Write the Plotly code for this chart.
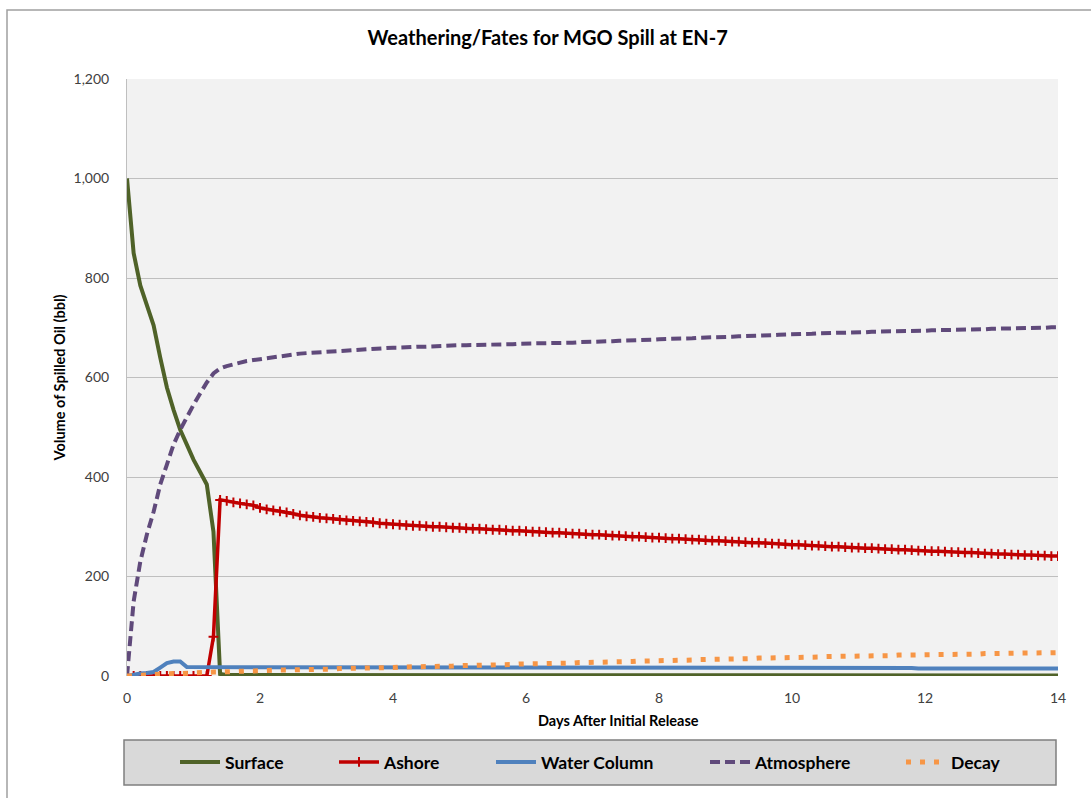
import plotly.graph_objects as go

# Model output time grid (days after release, 0.1-day step)
DAYS = [i / 10 for i in range(141)]

# Volumes (bbl), one row per day
SURFACE = [
    1000, 850, 785, 745, 705, 640, 580, 535, 495, 465,
    435, 410, 385, 290, 4, 2, 2, 2, 2, 2,
    2, 2, 2, 2, 2, 2, 2, 2, 2, 2,
    2, 2, 2, 2, 2, 2, 2, 2, 2, 2,
    1, 1, 1, 1, 1, 1, 1, 1, 1, 1,
    1, 1, 1, 1, 1, 1, 1, 1, 1, 1,
    1, 1, 1, 1, 1, 1, 1, 1, 1, 1,
    1, 1, 1, 1, 1, 1, 1, 1, 1, 1,
    1, 1, 1, 1, 1, 1, 1, 1, 1, 1,
    1, 1, 1, 1, 1, 1, 1, 1, 1, 1,
    1, 1, 1, 1, 1, 1, 1, 1, 1, 1,
    1, 1, 1, 1, 1, 1, 1, 1, 1, 1,
    1, 1, 1, 1, 1, 1, 1, 1, 1, 1,
    1, 1, 1, 1, 1, 1, 1, 1, 1, 1,
    1,
]

ASHORE = [
    0, 0, 0, 0, 0, 0, 0, 0, 0, 0,
    0, 0, 0, 79, 354, 352, 349, 347, 345, 343,
    338, 335, 333, 331, 329, 326, 323, 321, 320, 318,
    317, 316, 314, 313, 312, 311, 310, 309, 307, 306,
    305, 304, 303, 302, 302, 301, 300, 300, 299, 298,
    298, 297, 296, 296, 295, 294, 294, 293, 292, 292,
    291, 290, 290, 289, 288, 288, 287, 286, 286, 285,
    284, 284, 283, 282, 282, 281, 280, 280, 279, 278,
    278, 277, 276, 276, 275, 274, 274, 273, 272, 272,
    271, 270, 270, 269, 268, 268, 267, 266, 266, 265,
    264, 264, 263, 262, 262, 261, 260, 260, 259, 258,
    258, 257, 257, 256, 255, 255, 254, 254, 253, 252,
    252, 251, 251, 250, 249, 249, 248, 248, 247, 246,
    246, 245, 245, 244, 244, 243, 243, 242, 242, 241,
    241,
]

WATER_COLUMN = [
    0, 3, 5, 6, 8, 17, 26, 29, 29, 18,
    18, 18, 18, 18, 18, 18, 18, 18, 18, 18,
    17, 17, 17, 17, 17, 17, 17, 17, 17, 17,
    17, 17, 17, 17, 17, 17, 17, 17, 17, 17,
    16, 16, 16, 16, 16, 16, 16, 16, 16, 16,
    16, 16, 16, 16, 16, 16, 16, 16, 16, 16,
    16, 16, 16, 16, 16, 16, 16, 16, 16, 16,
    16, 16, 16, 16, 16, 16, 16, 16, 16, 16,
    16, 16, 16, 16, 16, 16, 16, 16, 16, 16,
    16, 16, 16, 16, 16, 16, 16, 16, 16, 16,
    16, 16, 16, 16, 16, 16, 16, 16, 16, 16,
    16, 16, 16, 16, 16, 16, 16, 16, 16, 15,
    15, 15, 15, 15, 15, 15, 15, 15, 15, 15,
    15, 15, 15, 15, 15, 15, 15, 15, 15, 15,
    15,
]

ATMOSPHERE = [
    0, 150, 230, 285, 330, 385, 425, 465, 495, 522,
    545, 568, 590, 608, 618, 623, 627, 630, 633, 635,
    637, 639, 641, 642, 644, 646, 648, 649, 650, 651,
    652, 653, 654, 655, 655, 656, 657, 657, 658, 659,
    660, 660, 661, 661, 662, 662, 663, 663, 664, 664,
    665, 665, 665, 666, 666, 666, 667, 667, 667, 668,
    668, 668, 669, 669, 669, 670, 670, 670, 671, 671,
    672, 672, 673, 673, 674, 674, 675, 675, 676, 676,
    677, 677, 678, 678, 679, 679, 680, 680, 681, 681,
    682, 682, 683, 683, 684, 684, 685, 685, 686, 686,
    687, 687, 688, 688, 689, 689, 690, 690, 690, 691,
    691, 691, 692, 692, 692, 693, 693, 693, 694, 694,
    694, 695, 695, 695, 696, 696, 696, 697, 697, 697,
    698, 698, 698, 699, 699, 699, 700, 700, 700, 701,
    701,
]

DECAY = [
    0, 1, 1, 2, 3, 3, 4, 5, 5, 6,
    6, 7, 7, 8, 8, 9, 9, 9, 10, 10,
    11, 11, 11, 12, 12, 12, 13, 13, 13, 14,
    14, 14, 15, 15, 15, 16, 16, 16, 17, 17,
    17, 18, 18, 18, 19, 19, 19, 20, 20, 20,
    21, 21, 21, 22, 22, 22, 23, 23, 23, 24,
    24, 24, 25, 25, 25, 26, 26, 26, 27, 27,
    27, 28, 28, 28, 29, 29, 29, 30, 30, 30,
    31, 31, 31, 32, 32, 32, 33, 33, 33, 34,
    34, 34, 35, 35, 35, 36, 36, 36, 37, 37,
    37, 38, 38, 38, 38, 39, 39, 39, 40, 40,
    40, 40, 41, 41, 41, 41, 42, 42, 42, 42,
    43, 43, 43, 43, 44, 44, 44, 44, 44, 45,
    45, 45, 45, 45, 46, 46, 46, 46, 46, 47,
    47,
]

Y_TICKS = [0, 200, 400, 600, 800, 1000, 1200]
X_TICKS = [0, 2, 4, 6, 8, 10, 12, 14]

FONT = "Lato"
TEXT_COLOR = "#404040"

# Plot-area geometry (px) used to place the frame, legend box and entries
L, R, T, B = 127, 1058, 79, 676
PW, PH = R - L, B - T


def px_x(v):
    return (v - L) / PW


def px_y(v):
    return (B - v) / PH


fig = go.Figure()

fig.add_trace(go.Scatter(
    x=DAYS, y=SURFACE, name="Surface", mode="lines", legend="legend",
    line=dict(color="#4F6228", width=4),
))
fig.add_trace(go.Scatter(
    x=DAYS, y=ASHORE, name="Ashore", mode="lines+markers", legend="legend2",
    line=dict(color="#C00000", width=3.5),
    marker=dict(symbol="cross-thin", size=7,
                line=dict(color="#C00000", width=2)),
))
fig.add_trace(go.Scatter(
    x=DAYS, y=WATER_COLUMN, name="Water Column", mode="lines",
    legend="legend3",
    line=dict(color="#4F81BD", width=4),
))
fig.add_trace(go.Scatter(
    x=DAYS, y=ATMOSPHERE, name="Atmosphere", mode="lines", legend="legend4",
    line=dict(color="#604A7B", width=4, dash="10px,5px"),
))
fig.add_trace(go.Scatter(
    x=DAYS, y=DECAY, name="Decay", mode="lines", legend="legend5",
    line=dict(color="#F79646", width=5, dash="5px,9px"),
))

shapes = [
    # outer chart frame
    dict(type="rect", xref="paper", yref="paper",
         x0=px_x(7), x1=px_x(1120), y0=px_y(830), y1=px_y(10),
         line=dict(color="#A0A0A0", width=1.5), fillcolor="rgba(0,0,0,0)",
         layer="below"),
    # legend box
    dict(type="rect", xref="paper", yref="paper",
         x0=px_x(124), x1=px_x(1056), y0=px_y(785), y1=px_y(740),
         line=dict(color="#7F7F7F", width=1.5), fillcolor="#D9D9D9",
         layer="below"),
]


def legend_at(symbol_left):
    return dict(
        orientation="h", xref="paper", yref="paper",
        x=px_x(symbol_left - 5), xanchor="left",
        y=px_y(762), yanchor="middle",
        bgcolor="rgba(0,0,0,0)", borderwidth=0,
        font=dict(family=FONT, size=17.5, color="#000000", weight="bold"),
        itemwidth=40,
    )


fig.update_layout(
    width=1091, height=798,
    margin=dict(l=L, r=1091 - R, t=T, b=798 - B),
    paper_bgcolor="white",
    plot_bgcolor="#F2F2F2",
    font=dict(family=FONT, color=TEXT_COLOR, size=14),
    title=dict(
        text="<b>Weathering/Fates for MGO Spill at EN-7</b>",
        x=0.502, xanchor="center", y=1 - 38 / 798, yanchor="middle",
        font=dict(family=FONT, size=20, color="#000000"),
    ),
    xaxis=dict(
        range=[0, 14], tickvals=X_TICKS, showgrid=False, zeroline=False,
        showline=False, ticks="", ticklabelstandoff=12,
        tickfont=dict(size=14, color=TEXT_COLOR),
    ),
    yaxis=dict(
        range=[0, 1200], tickvals=Y_TICKS, tickformat=",",
        showgrid=True, gridcolor="#BFBFBF", gridwidth=1,
        zeroline=False, showline=True, linecolor="#BFBFBF", linewidth=1,
        ticks="", ticklabelstandoff=14,
        tickfont=dict(size=14, color=TEXT_COLOR),
        title=dict(text="<b>Volume of Spilled Oil (bbl)</b>",
                   font=dict(size=14.5, color="#000000"), standoff=4),
    ),
    annotations=[
        dict(text="<b>Days After Initial Release</b>", xref="paper",
             yref="paper", x=px_x(618), y=px_y(720), xanchor="center",
             yanchor="middle", showarrow=False,
             font=dict(family=FONT, size=14.5, color="#000000")),
    ],
    legend=legend_at(180),
    legend2=legend_at(339),
    legend3=legend_at(496),
    legend4=legend_at(710),
    legend5=legend_at(906),
    shapes=shapes,
    showlegend=True,
)

fig.write_html("out.html")
